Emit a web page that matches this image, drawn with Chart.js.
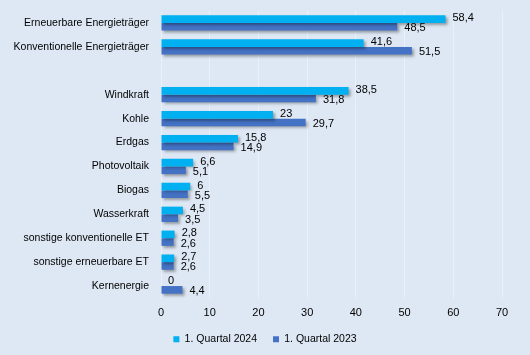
<!DOCTYPE html>
<html>
<head>
<meta charset="utf-8">
<script src="https://cdn.jsdelivr.net/npm/chart.js@4"></script>
<style>
  html, body { margin: 0; padding: 0; background: #DEE8F4; }
  #wrap { width: 530px; height: 355px; position: relative; }
</style>
</head>
<body>
<div id="wrap"><canvas id="c" width="530" height="355"></canvas></div>
<script>
const categories = [
  "Erneuerbare Energieträger",
  "Konventionelle Energieträger",
  "",
  "Windkraft",
  "Kohle",
  "Erdgas",
  "Photovoltaik",
  "Biogas",
  "Wasserkraft",
  "sonstige konventionelle ET",
  "sonstige erneuerbare ET",
  "Kernenergie"
];
const series2024 = [58.4, 41.6, null, 38.5, 23, 15.8, 6.6, 6, 4.5, 2.8, 2.7, 0];
const series2023 = [48.5, 51.5, null, 31.8, 29.7, 14.9, 5.1, 5.5, 3.5, 2.6, 2.6, 4.4];
const seriesNames = ["1. Quartal 2024", "1. Quartal 2023"];
const xTicks = [0, 10, 20, 30, 40, 50, 60, 70];

const FONT = "'Liberation Sans', Arial, sans-serif";

const shadowPlugin = {
  id: 'shadow',
  beforeDatasetDraw(chart, args) {
    const ctx = chart.ctx;
    ctx.save();
    ctx.shadowColor = 'rgba(0,0,0,0.35)';
    ctx.shadowBlur = 3;
    ctx.shadowOffsetX = 2;
    ctx.shadowOffsetY = 2;
  },
  afterDatasetDraw(chart) {
    chart.ctx.restore();
  }
};

const labelPlugin = {
  id: 'valueLabels',
  afterDatasetsDraw(chart) {
    const ctx = chart.ctx;
    ctx.save();
    ctx.font = "11px " + FONT;
    ctx.fillStyle = '#000';
    ctx.textAlign = 'left';
    ctx.textBaseline = 'middle';
    chart.data.datasets.forEach((ds, di) => {
      const meta = chart.getDatasetMeta(di);
      meta.data.forEach((bar, i) => {
        const v = ds.data[i];
        if (v === null || v === undefined) return;
        const txt = String(v).replace('.', ',');
        const dy = di === 0 ? -1 : 1.5;
        ctx.fillText(txt, bar.x + 7, bar.y + dy);
      });
    });
    ctx.restore();
  }
};

new Chart(document.getElementById('c'), {
  type: 'bar',
  data: {
    labels: categories,
    datasets: [
      { label: seriesNames[0], data: series2024, backgroundColor: '#00B0F0', borderWidth: 0,
        categoryPercentage: 0.64, barPercentage: 1.0 },
      { label: seriesNames[1], data: series2023, backgroundColor: '#4472C4', borderWidth: 0,
        categoryPercentage: 0.64, barPercentage: 1.0 }
    ]
  },
  options: {
    indexAxis: 'y',
    responsive: false,
    animation: false,
    devicePixelRatio: 1,
    layout: { padding: { top: 11, right: 0, left: 0, bottom: 0.5 } },
    scales: {
      x: {
        min: 0, max: 70,
        afterBuildTicks(scale) { scale.ticks = xTicks.map(v => ({ value: v })); },
        grid: { color: '#E9F0F9', drawTicks: false },
        border: { display: false },
        ticks: { font: { family: FONT, size: 11 }, color: '#000', padding: 8 },
        afterFit(scale) { scale.height = 20; scale.paddingRight = 28; scale.paddingLeft = 0; }
      },
      y: {
        grid: { display: false, drawTicks: false },
        border: { display: true, color: '#E9F0F9' },
        ticks: { font: { family: FONT, size: 10.5 }, color: '#000', padding: 12 },
        afterFit(scale) { scale.width = 161; scale.paddingTop = 0; scale.paddingBottom = 0; }
      }
    },
    plugins: {
      legend: {
        position: 'bottom',
        maxHeight: 40,
        labels: {
          font: { family: FONT, size: 10.5 }, color: '#000',
          boxWidth: 6, boxHeight: 6, padding: 16
        }
      },
      tooltip: { enabled: false }
    }
  },
  plugins: [shadowPlugin, labelPlugin]
});
</script>
</body>
</html>
